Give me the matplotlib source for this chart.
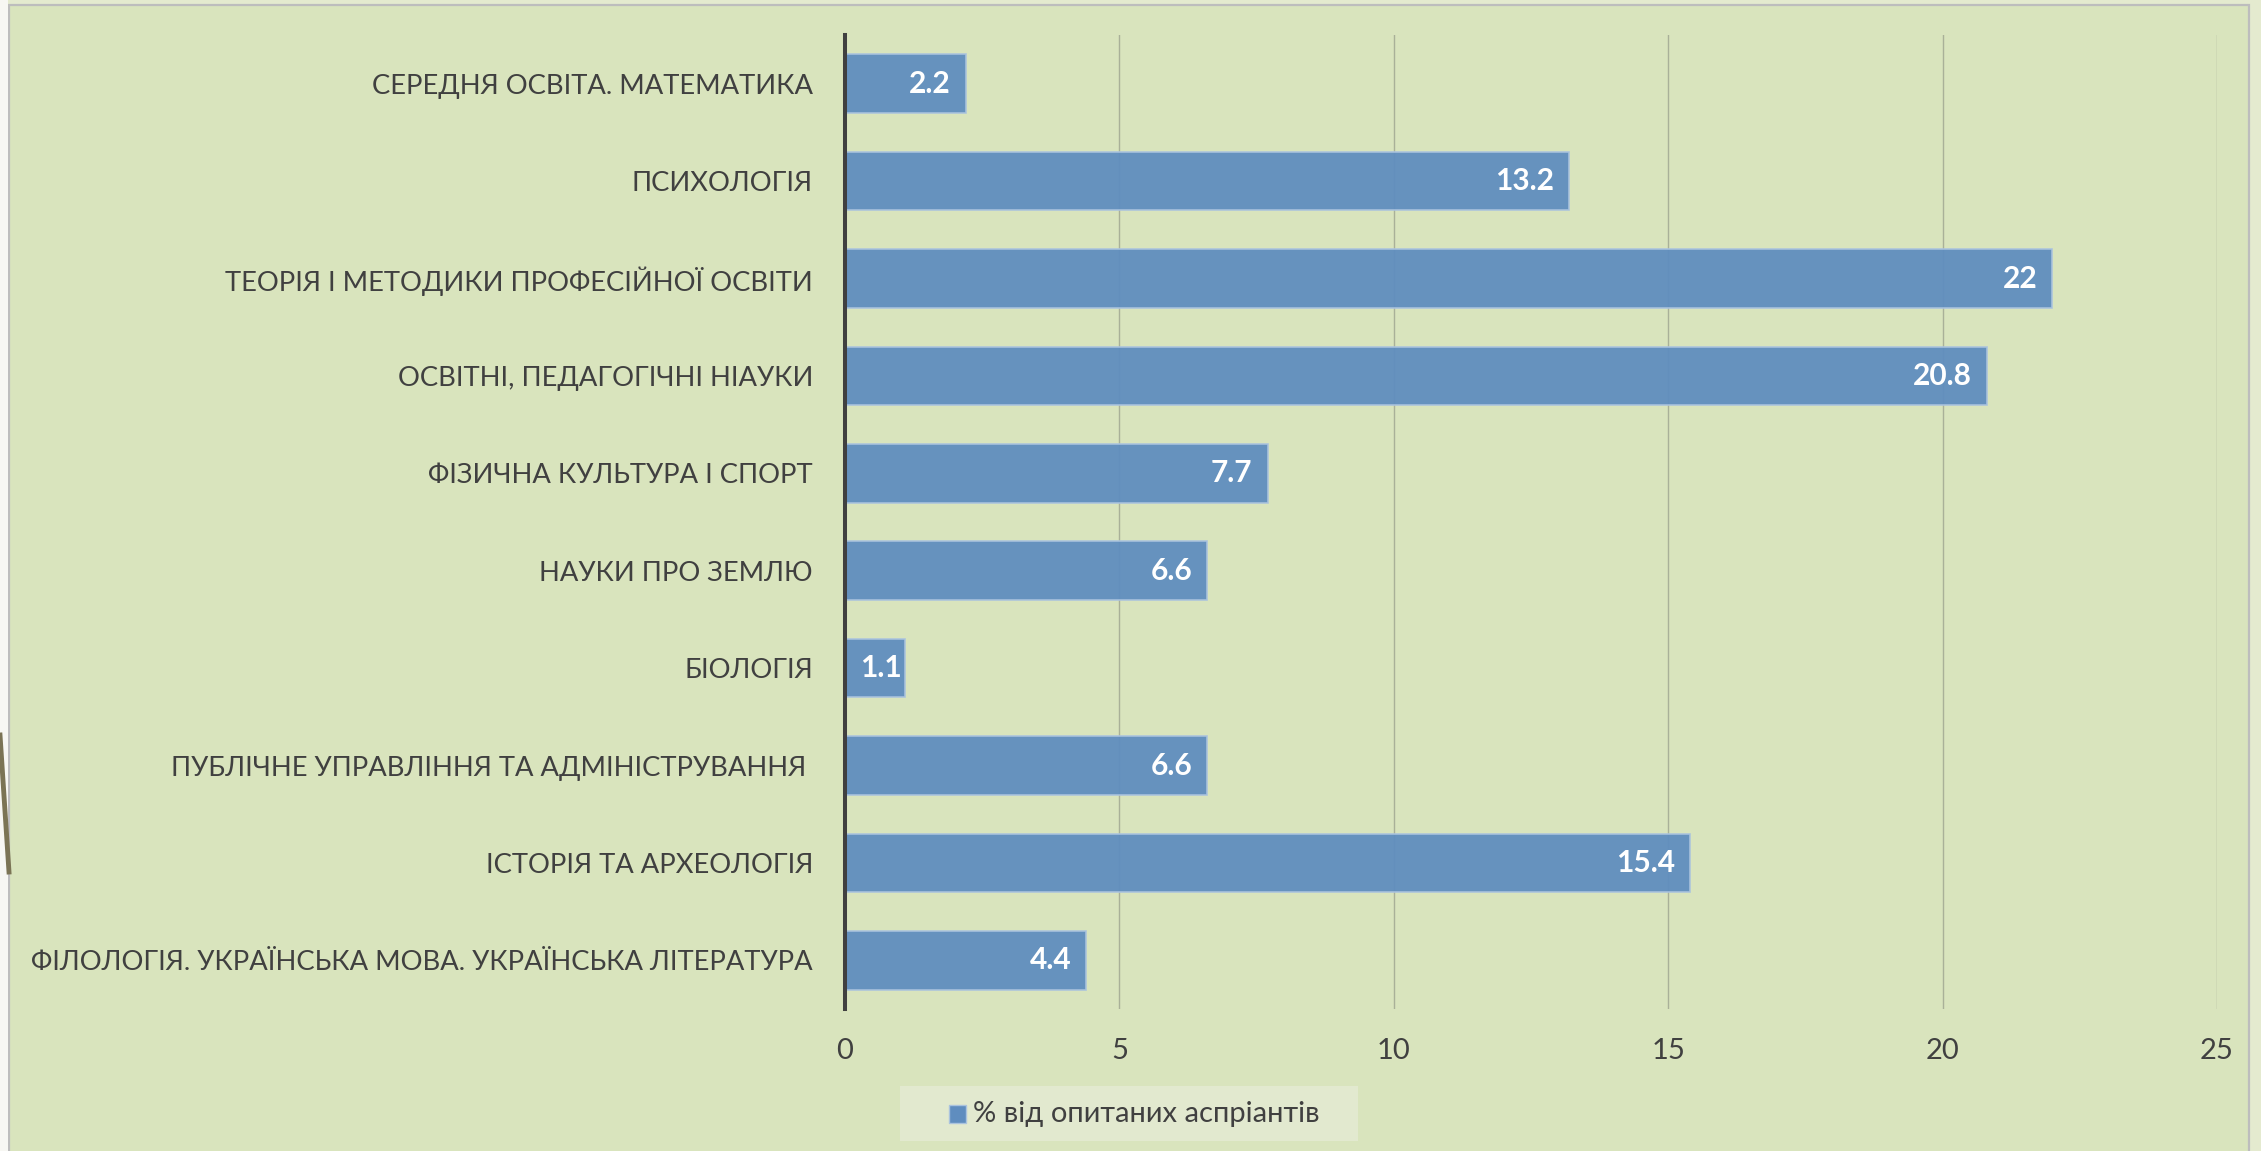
import matplotlib.pyplot as plt
from matplotlib.patches import Rectangle
from matplotlib.lines import Line2D

# Chart data (top to bottom as drawn)
categories = [
    "СЕРЕДНЯ ОСВІТА. МАТЕМАТИКА",
    "ПСИХОЛОГІЯ",
    "ТЕОРІЯ І МЕТОДИКИ ПРОФЕСІЙНОЇ ОСВІТИ",
    "ОСВІТНІ, ПЕДАГОГІЧНІ НІАУКИ",
    "ФІЗИЧНА КУЛЬТУРА І СПОРТ",
    "НАУКИ ПРО ЗЕМЛЮ",
    "БІОЛОГІЯ",
    "ПУБЛІЧНЕ УПРАВЛІННЯ ТА АДМІНІСТРУВАННЯ ",
    "ІСТОРІЯ ТА АРХЕОЛОГІЯ",
    "ФІЛОЛОГІЯ. УКРАЇНСЬКА МОВА. УКРАЇНСЬКА ЛІТЕРАТУРА",
]
values = [2.2, 13.2, 22, 20.8, 7.7, 6.6, 1.1, 6.6, 15.4, 4.4]
value_labels = ["2.2", "13.2", "22", "20.8", "7.7", "6.6", "1.1", "6.6", "15.4", "4.4"]
x_ticks = [0, 5, 10, 15, 20, 25]
series_name = "% від опитаних аспріантів"

W, H = 2261, 1151
FONT = ["Lato", "Open Sans", "DejaVu Sans"]
TEXT_COLOR = "#404040"
BAR_COLOR = "#5f8dbf"
CHART_BG = "#d9e4bd"
OUTER_BG = "#e4eacf"

plt.rcParams["font.family"] = FONT

fig = plt.figure(figsize=(W / 100, H / 100), dpi=100)
fig.patch.set_facecolor(OUTER_BG)

# Chart area with thin gray border
fig.patches.append(
    Rectangle((9 / W, -0.01), (2249 - 9) / W, (H - 5) / H + 0.01,
              transform=fig.transFigure, facecolor=CHART_BG,
              edgecolor="#bdbdbd", linewidth=1.6, zorder=-3)
)
# White strip on the far left with a stray brown stroke
fig.patches.append(
    Rectangle((0, 0), 8 / W, 1, transform=fig.transFigure,
              facecolor="#f7f7f3", edgecolor="none", zorder=-2)
)
fig.lines.append(
    Line2D([0 / W, 9 / W], [1 - 735 / H, 1 - 872 / H], transform=fig.transFigure,
           color="#7b7455", linewidth=3.5, zorder=-1)
)

ax = fig.add_axes([845 / W, 1 - 1009 / H, (2217 - 845) / W, (1009 - 35) / H])
ax.set_facecolor("none")

y_pos = list(range(len(categories)))
ax.barh(y_pos, values, height=0.6, color=BAR_COLOR, alpha=0.94,
        edgecolor="#aac3de", linewidth=1.2, zorder=2)

# Value labels inside the bar end (short bars get a smaller inset)
for y, v, lab in zip(y_pos, values, value_labels):
    inset = -15 if v >= 2 else -4
    ax.annotate(lab, (v, y), xytext=(inset, 0), textcoords="offset pixels",
                ha="right", va="center", color="white", fontsize=21.5,
                fontweight="bold", zorder=3)

ax.set_xlim(0, 25)
ax.set_ylim(len(categories) - 0.5, -0.5)
ax.set_xticks(x_ticks)
ax.set_yticks(y_pos)
ax.set_yticklabels(categories)

ax.grid(axis="x", color="#a9b098", linewidth=1.0, zorder=1)
ax.set_axisbelow(True)

for side in ["top", "right", "bottom"]:
    ax.spines[side].set_visible(False)
ax.spines["left"].set_color(TEXT_COLOR)
ax.spines["left"].set_linewidth(2.9)
ax.spines["left"].set_zorder(4)

ax.tick_params(axis="y", length=0, pad=23, labelsize=19.7, labelcolor=TEXT_COLOR)
ax.tick_params(axis="x", length=0, pad=21, labelsize=21, labelcolor=TEXT_COLOR)

# Legend box below the plot
legend_ax = fig.add_axes([900 / W, 1 - 1141 / H, (1358 - 900) / W, (1141 - 1086) / H])
legend_ax.set_xlim(0, 458)
legend_ax.set_ylim(55, 0)
legend_ax.set_facecolor("#e2e9cf")
for s in legend_ax.spines.values():
    s.set_visible(False)
legend_ax.set_xticks([])
legend_ax.set_yticks([])
legend_ax.add_patch(Rectangle((49, 19), 17, 18, facecolor=BAR_COLOR,
                              edgecolor="#aac3de", linewidth=1))
legend_ax.text(73, 28, series_name, ha="left", va="center",
               fontsize=21, color=TEXT_COLOR)

fig.savefig("out.png", dpi=100, facecolor=fig.get_facecolor())
